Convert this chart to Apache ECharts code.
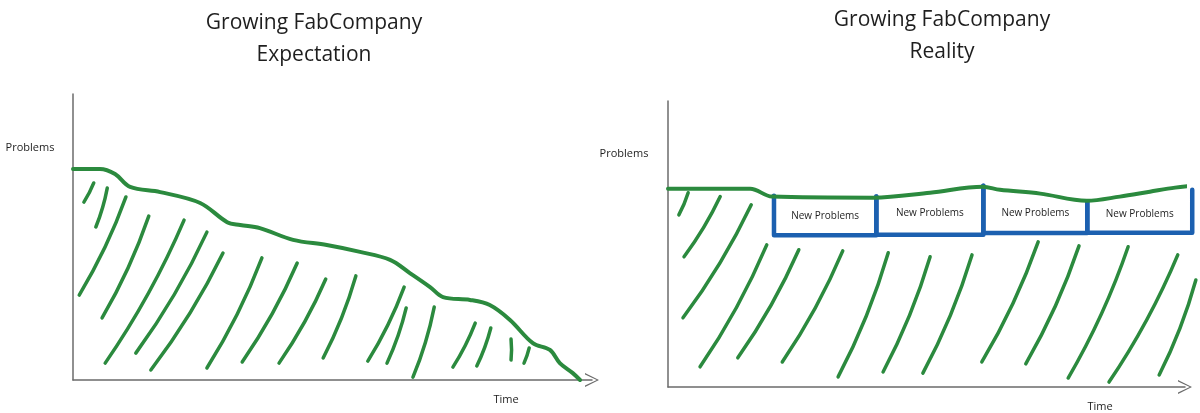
<!DOCTYPE html>
<html>
<head>
<meta charset="utf-8">
<script src="https://cdn.jsdelivr.net/npm/echarts@6/dist/echarts.min.js"></script>
<style>
  html, body { margin: 0; padding: 0; background: #fff; }
  #chart { width: 1200px; height: 413px; }
</style>
</head>
<body>
<div id="chart"></div>
<script>
// expectation: problems go down over time
const expectationLine = [
  [0, 73.8], [5.2, 73.8], [8.1, 72.0], [11.0, 67.5], [16.8, 65.7], [24.5, 61.9],
  [29.7, 55.2], [32.2, 54.2], [36.0, 53.1], [42.4, 49.0], [48.9, 47.2], [55.3, 44.8],
  [61.1, 42.0], [64.9, 37.4], [68.8, 32.5], [71.3, 29.0], [76.5, 28.0], [80.3, 26.2],
  [84.2, 21.0], [88.6, 12.9], [91.9, 10.5], [93.8, 5.9], [96.3, 2.4], [97.7, 0]
];

// hatch strokes under the curve: [x top, y top, x bottom, y bottom]
const expectationHatch = [
  [4.0, 68.9, 2.1, 62.2], [6.6, 67.1, 4.4, 53.5], [10.2, 64.0, 1.2, 29.7],
  [14.6, 57.3, 5.6, 21.7], [21.4, 55.9, 6.2, 5.9], [25.8, 51.7, 12.1, 9.4],
  [28.9, 44.4, 15.0, 3.5], [36.4, 42.7, 25.8, 4.2], [43.2, 40.9, 32.6, 6.3],
  [48.7, 35.3, 39.7, 5.9], [54.5, 36.4, 48.2, 7.7], [63.8, 32.5, 56.8, 6.6],
  [64.2, 25.2, 60.5, 5.9], [69.6, 25.5, 65.5, 1.0], [77.5, 19.9, 73.2, 4.5],
  [80.5, 18.2, 77.8, 4.9], [84.4, 14.3, 84.4, 7.0], [87.9, 11.2, 86.9, 5.9]
];

// reality: the level stays flat
const realityLine = [
  [0, 72.8], [6.2, 72.8], [15.9, 72.8], [20.1, 69.9], [39.7, 69.5], [50.7, 71.3],
  [60.9, 73.5], [64.2, 72.4], [72.0, 71.0], [81.0, 68.4], [87.4, 69.9], [93.2, 71.7],
  [98.1, 73.2], [101.4, 73.9]
];

const realityHatch = [
  [3.9, 71.3, 2.1, 63.2], [10.1, 69.9, 3.1, 47.8], [16.1, 66.9, 2.9, 25.4],
  [19.1, 52.2, 6.2, 7.4], [25.3, 50.4, 13.5, 10.7], [33.8, 50.0, 22.1, 9.2],
  [42.6, 49.3, 32.9, 3.7], [50.7, 47.8, 41.6, 5.5], [58.8, 48.5, 49.3, 5.1],
  [71.6, 53.3, 60.7, 9.2], [79.5, 51.8, 69.2, 8.5], [89.0, 51.5, 77.4, 3.3],
  [98.6, 48.5, 85.3, 1.8], [102.1, 39.3, 95.0, 4.4]
];

// new problems boxes: [x left, x right, top left, top right, bottom]
const newProblemBoxes = [
  [20.5, 40.3, 70.2, 69.9, 55.7],
  [40.3, 61.0, 69.9, 73.9, 55.9],
  [61.0, 81.1, 73.9, 68.0, 56.5],
  [81.1, 101.4, 68.0, 72.4, 56.6]
];
const boxLabel = 'New Problems';

const green = '#2b8a3e';
const blue = '#1c60b0';
const axisGray = '#6b6b6b';
const font = '"Open Sans", "Noto Sans", sans-serif';

const chart = echarts.init(document.getElementById('chart'));

const hatchData = (rows) => rows.map(r => ({ coords: [[r[0], r[1]], [r[2], r[3]]] }));

const chevron = 'path://M0,10 L5,0 L10,10 L9,10 L5,1.6 L1,10 Z';

const makeX = (gridIndex) => ({
  type: 'value', gridIndex, min: 0, max: 100,
  axisLine: { show: true, symbol: ['none', chevron], symbolSize: [14, 18],
    lineStyle: { color: axisGray, width: 1.5 } },
  axisTick: { show: false }, axisLabel: { show: false }, splitLine: { show: false }
});
const makeY = (gridIndex, max) => ({
  type: 'value', gridIndex, min: 0, max,
  axisLine: { show: true, lineStyle: { color: axisGray, width: 1.5 } },
  axisTick: { show: false }, axisLabel: { show: false }, splitLine: { show: false }
});

const lineSeries = (idx, data) => ({
  type: 'line', xAxisIndex: idx, yAxisIndex: idx, data,
  smooth: 0.35, showSymbol: false, clip: false, z: 5,
  lineStyle: { color: green, width: 4, cap: 'round', join: 'round' }
});
const hatchSeries = (idx, rows) => ({
  type: 'lines', coordinateSystem: 'cartesian2d', xAxisIndex: idx, yAxisIndex: idx,
  data: hatchData(rows), clip: false, silent: true, z: 3,
  lineStyle: { color: green, width: 3.5, curveness: 0.05, cap: 'round', opacity: 1 }
});

const text = (x, y, t, size) => ({
  type: 'text', x, y,
  style: { text: t, fill: '#1e1e1e', font: size + 'px ' + font,
    textAlign: 'center', textVerticalAlign: 'middle' }
});

const option = {
  backgroundColor: '#fff',
  animation: false,
  grid: [
    { left: 73, top: 94, width: 519, height: 286 },
    { left: 668, top: 101, width: 517, height: 286 }
  ],
  xAxis: [makeX(0), makeX(1)],
  yAxis: [makeY(0, 100), makeY(1, 105)],
  graphic: [
    text(314, 23, 'Growing FabCompany', 21),
    text(314, 55, 'Expectation', 21),
    text(942, 20, 'Growing FabCompany', 21),
    text(942, 52, 'Reality', 21),
    text(30, 148, 'Problems', 11),
    text(624, 154, 'Problems', 11),
    text(506, 400, 'Time', 11),
    text(1100, 407, 'Time', 11)
  ],
  series: [
    hatchSeries(0, expectationHatch),
    lineSeries(0, expectationLine),
    hatchSeries(1, realityHatch),
    {
      type: 'custom', xAxisIndex: 1, yAxisIndex: 1, data: newProblemBoxes,
      clip: false, silent: true, z: 4,
      encode: { x: [0, 1], y: [2, 3, 4] },
      renderItem: (params, api) => {
        const x0 = api.value(0), x1 = api.value(1);
        const tl = api.value(2), tr = api.value(3), b = api.value(4);
        const pts = [api.coord([x0, tl]), api.coord([x0, b]), api.coord([x1, b]), api.coord([x1, tr])];
        const mid = api.coord([(x0 + x1) / 2, ((tl + tr) / 2 + b) / 2]);
        return {
          type: 'group',
          children: [
            { type: 'polyline', shape: { points: pts },
              style: { stroke: blue, lineWidth: 4.5, fill: null, lineJoin: 'round', lineCap: 'round' } },
            { type: 'text', x: mid[0], y: mid[1],
              style: { text: boxLabel, fill: '#1e1e1e', font: '10px ' + font,
                textAlign: 'center', textVerticalAlign: 'middle' } }
          ]
        };
      }
    },
    lineSeries(1, realityLine)
  ]
};

chart.setOption(option);
</script>
</body>
</html>
